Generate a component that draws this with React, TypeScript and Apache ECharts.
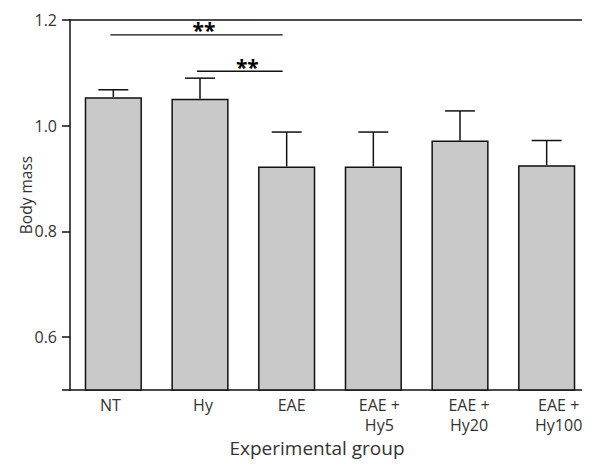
import React, { useEffect, useRef } from "react";
import * as echarts from "echarts";

const categories = ["NT", "Hy", "EAE", "EAE +\nHy5", "EAE +\nHy20", "EAE +\nHy100"];
const means = [1.054, 1.051, 0.923, 0.923, 0.972, 0.925];
const sems = [0.014, 0.039, 0.065, 0.065, 0.056, 0.047];
const yLabelValues = [0.6, 0.8, 1.0, 1.2];
const yTickValues = [0.5, 0.6, 0.8, 1.0, 1.2];
// [fromIndex, toIndex, level, label]
const sigBrackets: [number, number, number, string][] = [
  [0, 2, 1.172, "**"],
  [1, 2, 1.103, "**"],
];

const FONT = "'Open Sans', 'Noto Sans', sans-serif";
const TEXT = "#333";
// horizontal nudges (px) of the category labels, as placed in the reference
const labelShift = [-3, 3, 5, 6, 9, 12];

export default function App() {
  const ref = useRef<HTMLDivElement>(null);
  useEffect(() => {
    if (!ref.current) return;
    const chart = echarts.init(ref.current, undefined, { renderer: "svg" });
    const axisLineStyle = { color: "#111", width: 1.5 };
    const rich: Record<string, any> = {};
    labelShift.forEach((s, i) => {
      rich["c" + i] = {
        fontSize: 16,
        lineHeight: 20,
        color: TEXT,
        fontFamily: FONT,
        padding: s >= 0 ? [0, 0, 0, 2 * s] : [0, -2 * s, 0, 0],
      };
    });
    chart.setOption({
      animation: false,
      textStyle: { fontFamily: FONT },
      grid: { left: 70, top: 20, right: -4, bottom: 81 },
      xAxis: [
        {
          type: "category",
          data: categories,
          position: "bottom",
          axisLine: { lineStyle: axisLineStyle },
          axisTick: { alignWithLabel: true, length: 5, lineStyle: axisLineStyle },
          axisLabel: {
            color: TEXT,
            fontSize: 16,
            lineHeight: 20,
            margin: 5,
            fontFamily: FONT,
            interval: 0,
            formatter: (v: string, i: number) =>
              v
                .split("\n")
                .map((line) => `{c${i}|${line}}`)
                .join("\n"),
            rich,
          },
          name: "Experimental group",
          nameLocation: "middle",
          nameGap: 48,
          nameMoveOverlap: false,
          nameTextStyle: { color: TEXT, fontSize: 19, fontFamily: FONT, padding: [0, 26, 0, 0] },
        },
        {
          type: "category",
          data: categories,
          position: "top",
          axisLine: { lineStyle: axisLineStyle },
          axisTick: { show: false },
          axisLabel: { show: false },
        },
      ],
      yAxis: {
        type: "value",
        min: 0.5,
        max: 1.2,
        interval: 0.1,
        splitLine: { show: false },
        axisLine: { show: true, lineStyle: axisLineStyle },
        axisTick: { show: true, length: 8, lineStyle: axisLineStyle, customValues: yTickValues },
        axisLabel: {
          color: TEXT,
          fontSize: 16,
          margin: 13,
          fontFamily: FONT,
          customValues: yLabelValues,
          formatter: (v: number) => v.toFixed(1),
        },
        name: "Body mass",
        nameLocation: "middle",
        nameGap: 36,
        nameMoveOverlap: false,
        nameTextStyle: { color: TEXT, fontSize: 15.5, fontFamily: FONT, padding: [0, 0, 0, 20] },
      },
      series: [
        {
          type: "bar",
          data: means,
          barCategoryGap: "34%",
          itemStyle: { color: "#c9c9c9", borderColor: "#111", borderWidth: 1.5 },
          silent: true,
        },
        {
          type: "custom",
          data: means.map((m, i) => [i, m, sems[i]]),
          renderItem: (params: any, api: any) => {
            const i = api.value(0);
            const m = api.value(1);
            const e = api.value(2);
            const base = api.coord([i, m]);
            const top = api.coord([i, m + e]);
            const style = { stroke: "#111", lineWidth: 1.5 };
            return {
              type: "group",
              children: [
                { type: "line", shape: { x1: base[0], y1: base[1], x2: top[0], y2: top[1] }, style },
                { type: "line", shape: { x1: top[0] - 15, y1: top[1], x2: top[0] + 15, y2: top[1] }, style },
              ],
            };
          },
          z: 5,
          silent: true,
        },
        {
          type: "custom",
          data: sigBrackets.map((b) => [b[0], b[1], b[2]]),
          renderItem: (params: any, api: any) => {
            const idx = params.dataIndex;
            const a = api.coord([api.value(0), api.value(2)]);
            const b = api.coord([api.value(1), api.value(2)]);
            return {
              type: "group",
              children: [
                {
                  type: "line",
                  shape: { x1: a[0] - 3, y1: a[1], x2: b[0] - 4, y2: b[1] },
                  style: { stroke: "#111", lineWidth: 1.3 },
                },
                {
                  type: "text",
                  x: (a[0] + b[0]) / 2 + 4,
                  y: a[1] + 6,
                  style: {
                    text: sigBrackets[idx][3],
                    fill: "#000",
                    font: `bold 21px ${FONT}`,
                    textAlign: "center",
                    textVerticalAlign: "bottom",
                  },
                },
              ],
            };
          },
          clip: false,
          z: 6,
          silent: true,
        },
      ],
    });
    return () => chart.dispose();
  }, []);
  return <div ref={ref} style={{ width: 590, height: 471, margin: -8 }} />;
}
